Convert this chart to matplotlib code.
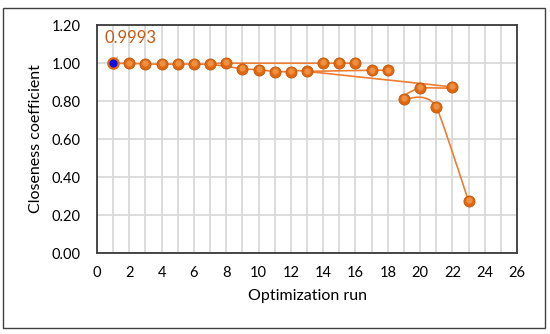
import matplotlib
matplotlib.use("Agg")
import matplotlib.pyplot as plt
import numpy as np
from matplotlib.patches import Rectangle

# optimization runs and their closeness coefficients
runs = [1, 2, 3, 4, 5, 6, 7, 8, 9, 10, 11, 12,
        13, 14, 15, 16, 17, 18, 19, 20, 21, 22, 23]
closeness = [0.9993, 0.998, 0.995, 0.994, 0.995, 0.994, 0.994, 0.999,
             0.970, 0.965, 0.955, 0.955, 0.956, 0.999, 0.999, 0.999,
             0.962, 0.961, 0.810, 0.868, 0.770, 0.874, 0.273]

# order in which the points are joined by the smoothed line
line_paths = [
    [1, 2, 3, 4, 5, 6, 7, 8, 14, 15, 16],
    [7, 9, 10, 11, 12, 13, 22, 20, 19, 21, 23],
    [13, 17, 18],
]

best_run = 1
best_label = "0.9993"

x_ticks = list(range(0, 27, 2))
y_ticks = [0.0, 0.2, 0.4, 0.6, 0.8, 1.0, 1.2]

ORANGE = "#ED7D31"
DARK_ORANGE = "#C0560F"
LABEL_ORANGE = "#C55A11"


def smooth_path(ax, xs, ys, n=30):
    """Bezier smoothing in pixel space, roughly like Excel's smoothed lines.
    Control arms are shortened when the neighbouring segment is shorter."""
    pts = ax.transData.transform(np.column_stack([xs, ys]))
    last = len(pts) - 1
    out = []
    for i in range(last):
        p1 = pts[i]
        p2 = pts[i + 1]
        d12 = np.linalg.norm(p2 - p1)
        if i == 0:
            c1 = p1
        else:
            p0 = pts[i - 1]
            k = min(1.0, np.linalg.norm(p1 - p0) / d12)
            c1 = p1 + (p2 - p0) / 6.0 * k
        if i + 1 == last:
            c2 = p2
        else:
            p3 = pts[i + 2]
            k = min(1.0, np.linalg.norm(p3 - p2) / d12)
            c2 = p2 - (p3 - p1) / 6.0 * k
        t = np.linspace(0, 1, n)[:, None]
        seg = ((1 - t) ** 3) * p1 + 3 * ((1 - t) ** 2) * t * c1 \
            + 3 * (1 - t) * t ** 2 * c2 + t ** 3 * p2
        out.append(seg if i == 0 else seg[1:])
    out = np.vstack(out)
    data = ax.transData.inverted().transform(out)
    return data[:, 0], data[:, 1]


plt.rcParams["font.family"] = ["Lato", "DejaVu Sans"]

fig = plt.figure(figsize=(5.5, 3.34), dpi=100)
ax = fig.add_axes([0.1764, 0.2425, 0.7636, 0.6825])

ax.set_xlim(0, 26)
ax.set_ylim(0, 1.2)
ax.set_xticks(x_ticks)
ax.set_yticks(y_ticks)
ax.set_xticks(range(0, 27), minor=True)
ax.set_yticklabels([f"{v:.2f}" for v in y_ticks])
ax.grid(True, which="both", color="#D9D9D9", linewidth=1.3)
ax.set_axisbelow(True)
ax.tick_params(which="both", length=0)
ax.tick_params(axis="y", pad=12, labelsize=10.5, colors="#000000")
ax.tick_params(axis="x", pad=9, labelsize=10.5, colors="#000000")
for sp in ax.spines.values():
    sp.set_color("#3A3A3A")
    sp.set_linewidth(1.3)

ax.set_xlabel("Optimization run", fontsize=11.5, labelpad=7)
ax.set_ylabel("Closeness coefficient", fontsize=11.5, labelpad=6)

lookup = dict(zip(runs, closeness))
for path in line_paths:
    xs = np.array(path, dtype=float)
    ys = np.array([lookup[r] for r in path])
    sx, sy = smooth_path(ax, xs, ys)
    ax.plot(sx, sy, color=ORANGE, linewidth=1.2, zorder=3, solid_capstyle="round")

others = [r for r in runs if r != best_run]
ox = np.array(others)
oy = np.array([lookup[r] for r in others])
ax.plot(ox, oy, "o", markersize=8, markerfacecolor="#E0680F",
        markeredgecolor=DARK_ORANGE, markeredgewidth=0.6, zorder=4)
ax.plot(ox, oy + 0.004, "o", markersize=4.5, markerfacecolor="#F39A4E",
        markeredgewidth=0, alpha=0.8, zorder=5)

ax.plot([best_run], [lookup[best_run]], "o", markersize=7.5,
        markerfacecolor="#1010E0", markeredgecolor="#E0680F",
        markeredgewidth=1.6, zorder=6)

ax.annotate(best_label, xy=(best_run, lookup[best_run]),
            xytext=(2.05, 1.13), textcoords="data",
            color=LABEL_ORANGE, fontsize=12, ha="center", va="center",
            arrowprops=dict(arrowstyle="-", color="#A6A6A6", lw=0.8,
                            shrinkA=7, shrinkB=2))

fig.patches.append(Rectangle((0.006, 0.018), 0.985, 0.957,
                             transform=fig.transFigure, fill=False,
                             edgecolor="#404040", linewidth=1.0))

fig.savefig("out.png", dpi=100)
